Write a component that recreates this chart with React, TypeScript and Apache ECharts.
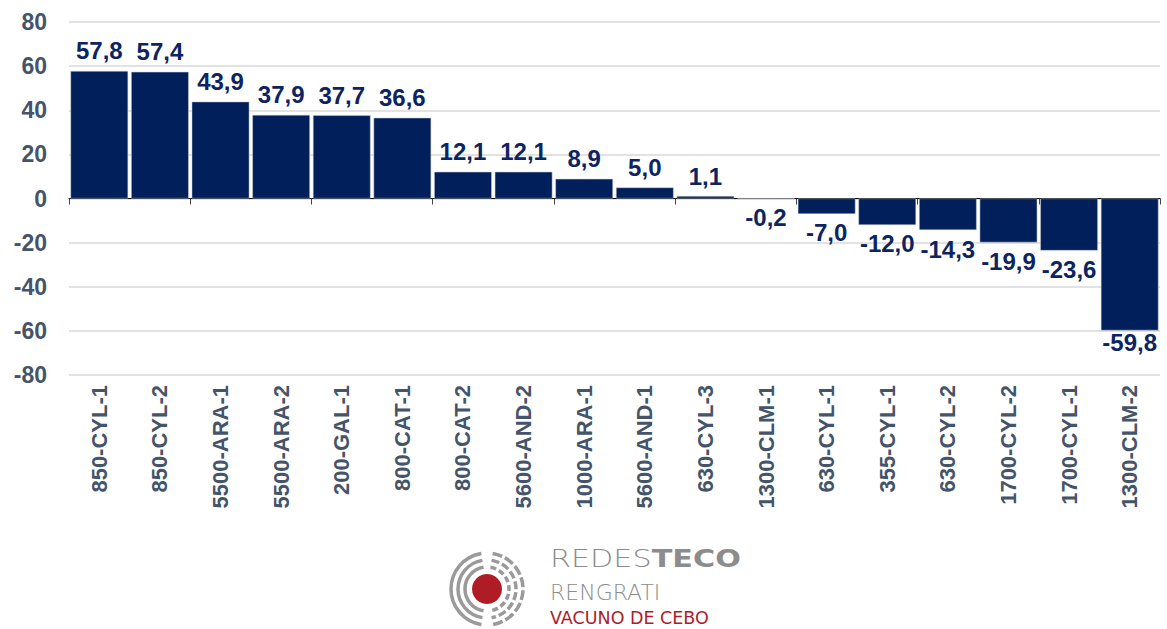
import React, { useEffect, useRef } from "react";
import * as echarts from "echarts";

const categories = [
  "850-CYL-1", "850-CYL-2", "5500-ARA-1", "5500-ARA-2", "200-GAL-1", "800-CAT-1",
  "800-CAT-2", "5600-AND-2", "1000-ARA-1", "5600-AND-1", "630-CYL-3", "1300-CLM-1",
  "630-CYL-1", "355-CYL-1", "630-CYL-2", "1700-CYL-2", "1700-CYL-1", "1300-CLM-2",
];
const values = [57.8, 57.4, 43.9, 37.9, 37.7, 36.6, 12.1, 12.1, 8.9, 5.0, 1.1, -0.2, -7.0, -12.0, -14.3, -19.9, -23.6, -59.8];
const yTicks = [-80, -60, -40, -20, 0, 20, 40, 60, 80];

const BAR = "#001f5b";
const LABEL = "#0d2462";
const AXIS_TXT = "#44546a";
const FONT = "'Liberation Sans', Arial, sans-serif";
const LOGO_FONT = "'DejaVu Sans', sans-serif";

export default function App() {
  const ref = useRef<HTMLDivElement>(null);
  useEffect(() => {
    if (!ref.current) return;
    const chart = echarts.init(ref.current, null, { renderer: "svg" });
    const cx = 487, cy = 589;
    const arcs: any[] = [];
    const radii = [22, 29, 36];
    radii.forEach((r, i) => {
      arcs.push({
        type: "arc",
        shape: { cx, cy, r, startAngle: Math.PI * 0.55, endAngle: Math.PI * 1.45, clockwise: true },
        style: { stroke: "#9a9a9a", lineWidth: 3.5, fill: "none" },
      });
      arcs.push({
        type: "arc",
        shape: { cx, cy, r, startAngle: Math.PI * 1.55, endAngle: Math.PI * 2.45, clockwise: true },
        style: { stroke: "#9a9a9a", lineWidth: 3.5, fill: "none", lineDash: [6 + i * 2, 3] },
      });
    });
    const minVal = Math.min(...values);
    chart.setOption({
      animation: false,
      grid: { left: 69, right: 7, top: 22, bottom: 254, containLabel: false },
      xAxis: [
        {
          type: "category",
          data: categories,
          position: "bottom",
          axisLine: { onZero: true, lineStyle: { color: "#000", width: 1 } },
          axisTick: { show: true, length: 6, lineStyle: { color: "#444" } },
          axisLabel: { show: false },
        },
        {
          type: "category",
          data: categories,
          position: "bottom",
          axisLine: { show: false },
          axisTick: { show: false },
          axisLabel: {
            rotate: 90,
            margin: 10,
            color: AXIS_TXT,
            fontFamily: FONT,
            fontWeight: "bold",
            fontSize: 22,
            interval: 0,
          },
        },
      ],
      yAxis: {
        type: "value",
        min: -80,
        max: 80,
        interval: 20,
        axisLine: { show: false },
        axisTick: { show: false },
        splitLine: { lineStyle: { color: "#d9d9d9", width: 1.5 } },
        axisLabel: {
          color: AXIS_TXT,
          fontFamily: FONT,
          fontWeight: "bold",
          fontSize: 23,
          margin: 22,
          formatter: (v: number) => (yTicks.includes(v) ? String(v) : ""),
        },
      },
      series: [
        {
          type: "bar",
          xAxisIndex: 0,
          barCategoryGap: "5%",
          data: values.map((v) => ({
            value: v,
            label: {
              position: v < 0 ? "bottom" : "top",
              distance: v < 0 ? (v === minVal ? 0 : 7) : 8,
            },
          })),
          itemStyle: { color: BAR, borderColor: "#c8ccd4", borderWidth: 0.5 },
          label: {
            show: true,
            color: LABEL,
            fontFamily: FONT,
            fontWeight: "bold",
            fontSize: 24,
            formatter: (p: any) => Number(p.value).toFixed(1).replace(".", ","),
          },
        },
      ],
      graphic: [
        ...arcs,
        {
          type: "circle",
          shape: { cx, cy, r: 15 },
          style: { fill: "#b01c26" },
        },
        {
          type: "text",
          x: 550,
          y: 559,
          scaleX: 1.26,
          style: {
            text: "{a|REDES}{b|TECO}",
            verticalAlign: "middle",
            rich: {
              a: { fontFamily: LOGO_FONT, fontWeight: 200, fontSize: 24, fill: "#8c8c8c" },
              b: { fontFamily: LOGO_FONT, fontWeight: "bold", fontSize: 24, fill: "#8c8c8c" },
            },
          },
        },
        {
          type: "text",
          x: 550,
          y: 592,
          style: {
            text: "RENGRATI",
            verticalAlign: "middle",
            font: `200 22px ${LOGO_FONT}`,
            fill: "#8c8c8c",
          },
        },
        {
          type: "text",
          x: 550,
          y: 618,
          style: {
            text: "VACUNO DE CEBO",
            verticalAlign: "middle",
            font: `normal 17.5px ${LOGO_FONT}`,
            fill: "#b01c26",
          },
        },
      ],
    });
    return () => chart.dispose();
  }, []);
  return (
    <div
      ref={ref}
      style={{ position: "fixed", left: 0, top: 0, width: 1167, height: 629, background: "#fff" }}
    />
  );
}
